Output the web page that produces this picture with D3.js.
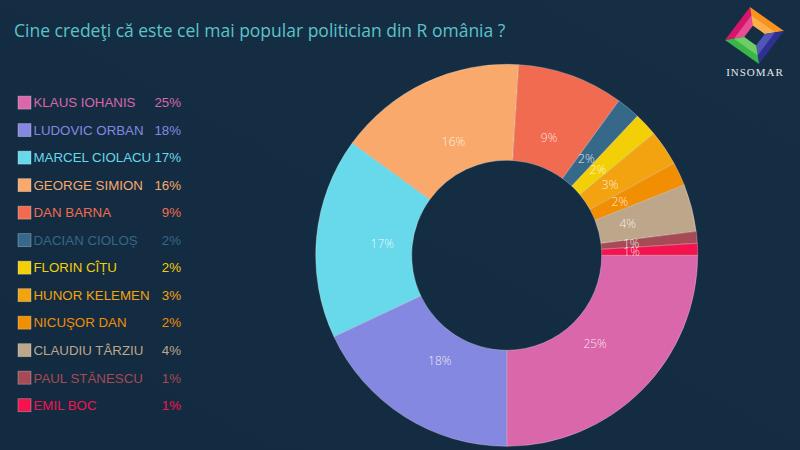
<!DOCTYPE html>
<html>
<head>
<meta charset="utf-8">
<script src="https://cdn.jsdelivr.net/npm/d3@7"></script>
<style>
    html, body { margin: 0; padding: 0; background: #142d42; }
    svg { display: block; }
</style>
</head>
<body>
<div id="chart"></div>
<script>
    var names = ['KLAUS IOHANIS', 'LUDOVIC ORBAN', 'MARCEL CIOLACU', 'GEORGE SIMION', 'DAN BARNA', 'DACIAN CIOLOȘ',
        'FLORIN CÎȚU', 'HUNOR KELEMEN', 'NICUŞOR DAN', 'CLAUDIU TÂRZIU', 'PAUL STĂNESCU', 'EMIL BOC']
    var values = [25, 18, 17, 16, 9, 2, 2, 3, 2, 4, 1, 1]
    var colors = ['#d967a9', '#8588e0', '#67d9ea', '#f8a96b', '#f16b50', '#356889',
        '#f3cf07', '#f3a30f', '#f18e02', '#bea68b', '#a64a55', '#f5134f']
    var title = 'Cine credeţi că este cel mai popular politician din R omânia ?'

    var width = 800, height = 450
    var svg = d3.select('#chart').append('svg').attr('width', width).attr('height', height)

    // fundal
    var defs = svg.append('defs')
    var grad = defs.append('linearGradient').attr('id', 'bg').attr('x1', 0).attr('y1', 1).attr('x2', 1).attr('y2', 0)
    grad.append('stop').attr('offset', '0%').attr('stop-color', '#132b40')
    grad.append('stop').attr('offset', '100%').attr('stop-color', '#152e44')
    svg.append('rect').attr('width', width).attr('height', height).attr('fill', 'url(#bg)')

    svg.append('text')
        .attr('x', 14).attr('y', 37)
        .attr('fill', '#5cc3c9')
        .style('font-family', 'Open Sans, sans-serif')
        .style('font-size', '17.5px')
        .text(title)

    // donut
    var cx = 506.7, cy = 255.3, outerR = 191, innerR = 95, labelR = 125
    var pie = d3.pie().sort(null).value(function (d) { return d })
        .startAngle(Math.PI / 2).endAngle(Math.PI / 2 + 2 * Math.PI)
    var arcs = pie(values)
    var arc = d3.arc().innerRadius(innerR).outerRadius(outerR)
    var labelArc = d3.arc().innerRadius(labelR).outerRadius(labelR)
    var g = svg.append('g').attr('transform', 'translate(' + cx + ',' + cy + ')')
    g.selectAll('path').data(arcs).enter().append('path')
        .attr('d', arc)
        .attr('fill', function (d, i) { return colors[i] })
        .attr('stroke', 'rgba(255,255,255,0.45)')
        .attr('stroke-width', 0.6)
    g.selectAll('text.lbl').data(arcs).enter().append('text')
        .attr('class', 'lbl')
        .attr('transform', function (d) { return 'translate(' + labelArc.centroid(d) + ')' })
        .attr('text-anchor', 'middle')
        .attr('dy', '0.35em')
        .attr('fill', 'rgba(255,255,255,0.85)')
        .style('font-family', 'Open Sans, sans-serif')
        .style('font-weight', 300)
        .style('font-size', '12px')
        .text(function (d) { return d.data + '%' })

    // legenda
    var legendY = d3.scaleLinear().domain([0, names.length - 1]).range([102.6, 405.2])
    var legend = svg.append('g')
    var rows = legend.selectAll('g').data(names).enter().append('g')
        .attr('transform', function (d, i) { return 'translate(0,' + legendY(i) + ')' })
    rows.append('rect')
        .attr('x', 18).attr('y', -6.5).attr('width', 13).attr('height', 13)
        .attr('fill', function (d, i) { return colors[i] })
        .attr('stroke', 'rgba(255,255,255,0.35)').attr('stroke-width', 0.8)
    rows.append('text')
        .attr('x', 33.5).attr('y', 4.8)
        .attr('fill', function (d, i) { return colors[i] })
        .style('font-family', 'Liberation Sans, Arial, sans-serif')
        .style('font-size', '13.3px')
        .text(function (d) { return d })
    rows.append('text')
        .attr('x', 181).attr('y', 4.8)
        .attr('text-anchor', 'end')
        .attr('fill', function (d, i) { return colors[i] })
        .style('font-family', 'Liberation Sans, Arial, sans-serif')
        .style('font-size', '13.3px')
        .text(function (d, i) { return values[i] + '%' })

    // logo INSOMAR
    var logo = svg.append('g')
    var lc = [754.5, 35.5]
    var corners = [[725, 40], [750, 7], [784, 31], [759, 64]]
    var logoCols = [['#d4156a', '#ec5aa0'], ['#f7931e', '#fbb75a'], ['#2e3192', '#5a5fc0'], ['#39b54a', '#7ad36a']]
    function toward(p, f) { return [lc[0] + (p[0] - lc[0]) * f, lc[1] + (p[1] - lc[1]) * f] }
    for (var k = 0; k < 4; k++) {
        var a = corners[k], b = corners[(k + 1) % 4]
        var ai = toward(a, 0.35), bi = toward(b, 0.35)
        var am = toward(a, 0.7), bm = toward(b, 0.7)
        logo.append('polygon').attr('points', [a, b, bi, ai].join(' ')).attr('fill', logoCols[k][0])
        logo.append('polygon').attr('points', [am, bm, bi, ai].join(' ')).attr('fill', logoCols[k][1]).attr('opacity', 0.8)
    }
    logo.append('text')
        .attr('x', 755).attr('y', 76)
        .attr('text-anchor', 'middle')
        .attr('fill', '#e6e6ea')
        .style('font-family', 'Liberation Serif, serif')
        .style('font-size', '11px')
        .style('letter-spacing', '1px')
        .text('INSOMAR')
</script>
</body>
</html>
